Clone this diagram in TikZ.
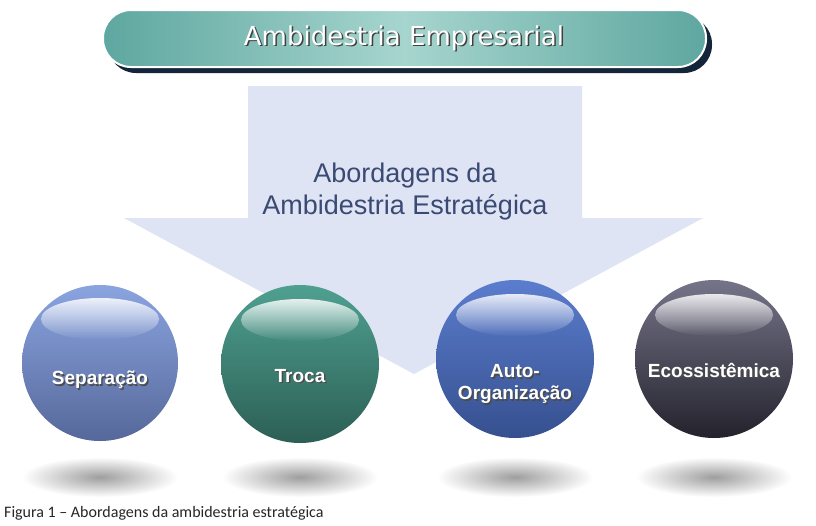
\documentclass[tikz,border=0pt]{standalone}
\usepackage{fontspec}
\setmainfont{Liberation Sans}
\newfontfamily\bannerfont{DejaVu Sans}
\newfontfamily\capfont{Carlito}
\usetikzlibrary{fadings,shapes.geometric}
\definecolor{arrowfill}{HTML}{DFE4F5}
\definecolor{arrowtext}{HTML}{3A4A72}
\definecolor{banneredge}{HTML}{5EA7A0}
\definecolor{bannermid}{HTML}{A6D5CE}
\definecolor{bannershadow}{HTML}{14253A}
\definecolor{sepTop}{HTML}{8AA4E0}
\definecolor{sepBot}{HTML}{56689A}
\definecolor{troTop}{HTML}{4FA090}
\definecolor{troBot}{HTML}{2C5F55}
\definecolor{autTop}{HTML}{5B7DCE}
\definecolor{autBot}{HTML}{36508F}
\definecolor{ecoTop}{HTML}{767489}
\definecolor{ecoBot}{HTML}{23222C}
\tikzset{
  spherelabel/.style={font=\bfseries\fontsize{19}{22}\selectfont, text=white, align=center, inner sep=0pt},
  spherelabelshadow/.style={font=\bfseries\fontsize{19}{22}\selectfont, text=black!70, align=center, inner sep=0pt},
  floorshadow/.style={inner color=black!38, outer color=white},
  gloss/.style={fill=white, path fading=south, fill opacity=0.85}
}
\begin{document}
\begin{tikzpicture}[x=1pt,y=-1pt]
\useasboundingbox (0,0) rectangle (816,525);
\fill[white] (0,0) rectangle (816,525);
% banner
\fill[bannershadow, rounded corners=28pt] (108,16) rectangle (712,73);
\shade[left color=banneredge, right color=banneredge, middle color=bannermid, rounded corners=28pt, draw=white, line width=2pt] (103,10) rectangle (706,67);
\node[font=\bannerfont\fontsize{26}{30}\selectfont, text=black!75] at (405.5,39.5) {Ambidestria Empresarial};
\node[font=\bannerfont\fontsize{26}{30}\selectfont, text=white] (banner) at (404,38) {Ambidestria Empresarial};
% arrow
\fill[arrowfill] (248,86) -- (582,86) -- (582,218) -- (703,218) -- (414,374) -- (124,218) -- (248,218) -- cycle;
\node[font=\fontsize{27}{32}\selectfont, text=arrowtext, align=center] (abord) at (405,192) {Abordagens da\\Ambidestria Estratégica};
% floor shadows
\shade[floorshadow] (100,477) ellipse (78 and 20);
\shade[floorshadow] (300,477) ellipse (78 and 20);
\shade[floorshadow] (515,477) ellipse (78 and 20);
\shade[floorshadow] (714,477) ellipse (78 and 20);
% spheres
\shade[top color=sepTop, bottom color=sepBot] (100,363) circle (78);
\fill[gloss] (100,319) ellipse (59 and 21);
\shade[top color=troTop, bottom color=troBot] (300,364) circle (79);
\fill[gloss] (300,320) ellipse (59 and 21);
\shade[top color=autTop, bottom color=autBot] (515,359) circle (79);
\fill[gloss] (515,315) ellipse (59 and 21);
\shade[top color=ecoTop, bottom color=ecoBot] (714,359) circle (79);
\fill[gloss] (714,315) ellipse (59 and 21);
% labels
\node[spherelabelshadow] at (101.5,381.5) {Separação};
\node[spherelabel] (sep) at (100,380) {Separação};
\node[spherelabelshadow] at (301.5,377.5) {Troca};
\node[spherelabel] (tro) at (300,376) {Troca};
\node[spherelabelshadow] at (516.5,385.5) {Auto-\\Organização};
\node[spherelabel] (aut) at (515,384) {Auto-\\Organização};
\node[spherelabelshadow] at (715.5,371.5) {Ecossistêmica};
\node[spherelabel] (eco) at (714,370) {Ecossistêmica};
% caption
\node[font=\capfont\fontsize{16}{18}\selectfont, anchor=base west, inner sep=0pt, text=black!85] (cap) at (4,517) {Figura 1 – Abordagens da ambidestria estratégica};
\end{tikzpicture}
\end{document}
